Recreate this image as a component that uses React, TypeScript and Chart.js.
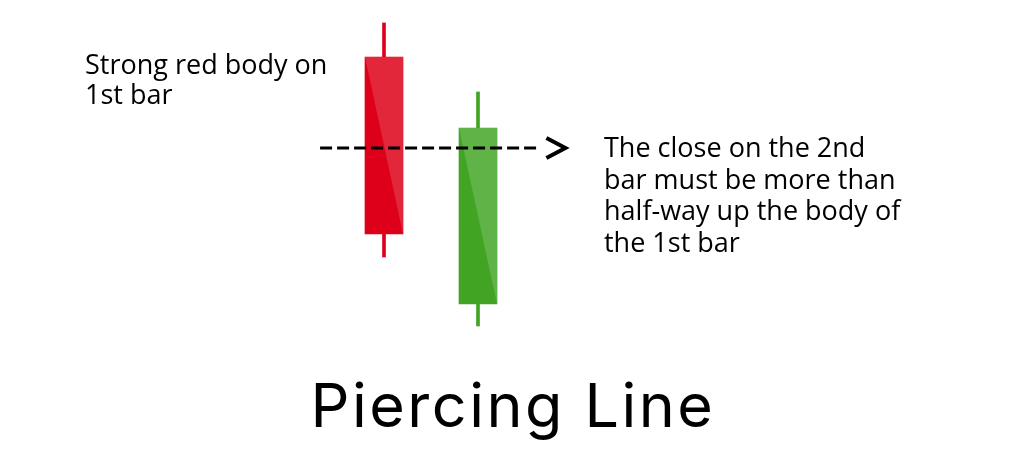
import React, { useRef, useEffect } from 'react';
import { Chart, registerables, Plugin } from 'chart.js';

Chart.register(...registerables);

// Two-bar piercing line pattern: bar index, open, high, low, close
const barIndex = [1, 2];
const opens = [39.9, 15.2];
const highs = [43.3, 36.4];
const lows = [19.9, 13.0];
const closes = [22.2, 32.8];

// Dashed guide line level (about half-way up the 1st body) and its span
const guideLevel = 30.8;
const guideFrom = 0.32;
const guideTo = 2.66;
const arrowTip = 2.93;

const leftNote = ['Strong red body on', '1st bar'];
const rightNote = ['The close on the 2nd', 'bar must be more than', 'half-way up the body of', 'the 1st bar'];
const titleText = 'Piercing Line';

const darkColors = closes.map((c, i) => (c < opens[i] ? '#de001a' : '#41a423'));
const lightColors = closes.map((c, i) => (c < opens[i] ? '#e3273b' : '#5fb347'));

const annotationPlugin: Plugin = {
  id: 'pierceAnnotations',
  afterDatasetsDraw(chart) {
    const { ctx } = chart;
    // lighter diagonal half on each body
    const meta = chart.getDatasetMeta(0);
    meta.data.forEach((el: any, i: number) => {
      const left = el.x - el.width / 2;
      const right = el.x + el.width / 2;
      const top = Math.min(el.y, el.base);
      const bottom = Math.max(el.y, el.base);
      ctx.save();
      ctx.fillStyle = lightColors[i];
      ctx.beginPath();
      ctx.moveTo(left, top);
      ctx.lineTo(right, top);
      ctx.lineTo(right, bottom);
      ctx.closePath();
      ctx.fill();
      ctx.restore();
    });
  },
  afterDraw(chart) {
    const { ctx } = chart;
    const xs = chart.scales.x;
    const ys = chart.scales.y;

    // dashed guide on top of the bodies
    const y = ys.getPixelForValue(guideLevel);
    ctx.save();
    ctx.strokeStyle = '#000';
    ctx.lineWidth = 3.2;
    ctx.setLineDash([12, 5]);
    ctx.beginPath();
    ctx.moveTo(xs.getPixelForValue(guideFrom), y);
    ctx.lineTo(xs.getPixelForValue(guideTo), y);
    ctx.stroke();

    // arrow head
    const tip = xs.getPixelForValue(arrowTip);
    ctx.setLineDash([]);
    ctx.lineWidth = 4;
    ctx.beginPath();
    ctx.moveTo(tip - 19, y - 10);
    ctx.lineTo(tip, y);
    ctx.lineTo(tip - 19, y + 10);
    ctx.stroke();

    // notes
    ctx.fillStyle = '#000';
    ctx.textAlign = 'left';
    ctx.textBaseline = 'alphabetic';
    ctx.font = '27px "Open Sans", Lato, sans-serif';
    leftNote.forEach((line, i) => ctx.fillText(line, 85, 74 + i * 30));
    rightNote.forEach((line, i) => ctx.fillText(line, 604, 157 + i * 31.5));

    // title
    ctx.textAlign = 'center';
    ctx.font = '61px Inter, Roboto, sans-serif';
    (ctx as any).letterSpacing = '2.5px';
    ctx.fillText(titleText, 513, 427);
    ctx.restore();
  },
};

const PiercingLine: React.FC = () => {
  const chartRef = useRef<HTMLCanvasElement>(null);
  const chartInstance = useRef<Chart | null>(null);

  useEffect(() => {
    if (!chartRef.current) return;
    if (chartInstance.current) chartInstance.current.destroy();

    const ctx = chartRef.current.getContext('2d');
    if (!ctx) return;

    chartInstance.current = new Chart(ctx, {
      type: 'bar',
      data: {
        datasets: [
          {
            label: 'Body',
            data: barIndex.map((x, i) => ({ x, y: [opens[i], closes[i]] })) as any,
            backgroundColor: darkColors,
            barThickness: 38,
            grouped: false,
            order: 0,
          },
          {
            label: 'Wick',
            data: barIndex.map((x, i) => ({ x, y: [lows[i], highs[i]] })) as any,
            backgroundColor: darkColors,
            barThickness: 3,
            grouped: false,
            order: 1,
          },
        ],
      },
      options: {
        responsive: true,
        maintainAspectRatio: false,
        animation: false,
        layout: { padding: { left: 290, right: 452, top: 0, bottom: 0 } },
        scales: {
          x: { type: 'linear', min: 0, max: 3, offset: false, display: false },
          y: { type: 'linear', min: 0, max: 45.6, display: false },
        },
        plugins: {
          legend: { display: false },
          tooltip: { enabled: false },
          title: { display: false },
        },
      },
      plugins: [annotationPlugin],
    });

    return () => {
      if (chartInstance.current) {
        chartInstance.current.destroy();
        chartInstance.current = null;
      }
    };
  }, []);

  return (
    <div style={{ position: 'absolute', left: 0, top: 0, width: 1024, height: 456, background: '#fff' }}>
      <canvas ref={chartRef} />
    </div>
  );
};

export default function App() {
  return <PiercingLine />;
}
